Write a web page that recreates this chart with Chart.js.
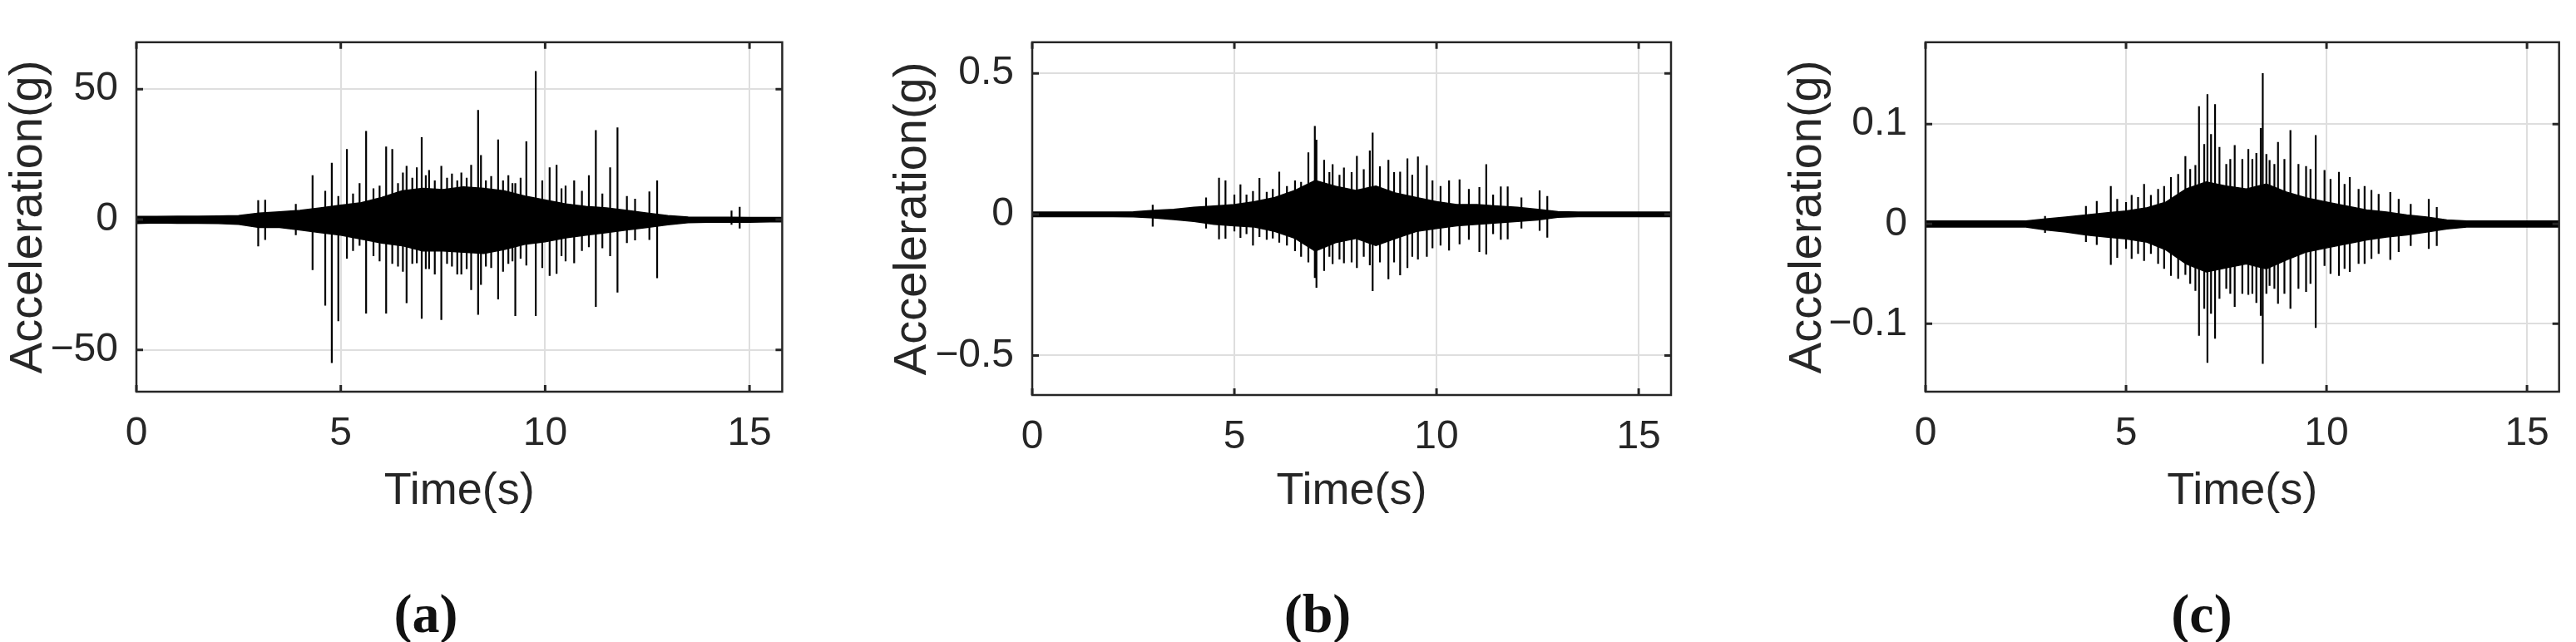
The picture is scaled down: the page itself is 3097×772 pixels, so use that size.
<!DOCTYPE html>
<html>
<head>
<meta charset="utf-8">
<script src="https://cdn.jsdelivr.net/npm/chart.js@4.4.1/dist/chart.umd.min.js"></script>
<style>
  html, body { margin: 0; padding: 0; background: #fff; }
  body { width: 3097px; height: 772px; position: relative; overflow: hidden; }
  .panel { position: absolute; top: 0; }
  .cap { position: absolute; top: 700px; width: 200px; margin-left: -100px; text-align: center;
         font: bold 66px "Liberation Serif", "DejaVu Serif", serif; color: #111; }
</style>
</head>
<body>
<div class="panel" id="pa"><canvas id="ca"></canvas></div>
<div class="panel" id="pb"><canvas id="cb"></canvas></div>
<div class="panel" id="pc"><canvas id="cc"></canvas></div>
<div class="cap" style="left:512px">(a)</div>
<div class="cap" style="left:1584px">(b)</div>
<div class="cap" style="left:2647px">(c)</div>
<script>
// envelope sample times (s)
const envTimes = [0,0.5,1,1.5,2,2.5,3,3.5,4,4.5,5,5.5,6,6.5,7,7.5,8,8.5,9,9.5,10,10.5,11,11.5,12,12.5,13,13.5,14,14.5,15,15.5,16];

// (a) dense core of the record, upper and lower edges
const aCoreUp = [1.2,1.2,1.3,1.3,1.4,1.5,2.5,3,3.5,4.5,5.5,6.5,8.5,11,12,11.5,12.5,12,11,9,7.5,6,5,4.5,3.5,2.5,1.5,1,0.9,0.9,0.8,0.8,0.8];
const aCoreLo = [-1.5,-1.3,-1.4,-1.4,-1.5,-1.8,-3,-3,-4,-5,-6,-7.5,-9,-10,-12,-12,-12.5,-13,-11.5,-9.5,-8.5,-7,-6,-5,-4,-3,-2,-1.2,-1,-1,-1,-0.9,-0.9];
// (a) isolated peaks: time, positive peak, negative peak
const aSpikeT  = [2.98,3.15,3.9,4.31,4.62,4.78,4.94,5.15,5.3,5.46,5.62,5.8,5.95,6.11,6.26,6.4,6.52,6.61,6.75,6.86,6.98,7.08,7.16,7.3,7.46,7.6,7.72,7.85,7.95,8.08,8.19,8.36,8.43,8.55,8.68,8.85,8.97,9.1,9.2,9.27,9.4,9.54,9.77,9.93,10.11,10.28,10.4,10.5,10.71,10.9,11.07,11.24,11.4,11.59,11.77,12.0,12.2,12.55,12.74,14.56,14.76];
const aSpikeUp = [7.4,7.6,6,17,11,21.8,9,27,10,14,34,12,13,28,27,14,18,20.6,16,20,31.6,17,19,15,20.6,16,17.6,15,18,16,21,42,24.7,15,16.7,30.7,15,17,14,14,16,30,56.9,15,20,21,12,13,15,11,17,34.3,10,20,35.3,9,8,10.8,15,3.4,4.9];
const aSpikeLo = [-10.3,-7.8,-6,-19.4,-33,-55,-39,-15,-12,-10,-36,-14,-16,-36,-17,-18,-20,-32,-17,-16.7,-38,-19,-19,-21,-38.5,-17,-18,-21,-21,-19,-27,-36.5,-25,-18,-18.6,-30.6,-20,-17,-16,-37,-15,-17.6,-37,-18.6,-21.6,-20.8,-14,-16,-16.7,-12,-10.6,-33.5,-11,-14,-28,-9,-8,-7.8,-22.5,-2,-3.4];

// (b)
const bCoreUp = [0.008,0.008,0.008,0.008,0.008,0.009,0.014,0.018,0.025,0.03,0.035,0.045,0.06,0.085,0.12,0.1,0.085,0.1,0.075,0.06,0.045,0.035,0.035,0.03,0.025,0.018,0.01,0.008,0.008,0.008,0.008,0.008,0.008];
const bCoreLo = [-0.008,-0.008,-0.008,-0.008,-0.008,-0.009,-0.012,-0.018,-0.025,-0.035,-0.04,-0.045,-0.06,-0.085,-0.13,-0.1,-0.085,-0.11,-0.085,-0.06,-0.05,-0.04,-0.035,-0.03,-0.025,-0.02,-0.01,-0.008,-0.008,-0.008,-0.008,-0.008,-0.008];
const bSpikeT  = [2.98,4.3,4.62,4.78,5.0,5.15,5.3,5.46,5.62,5.8,5.95,6.11,6.3,6.5,6.65,6.83,6.99,7.03,7.22,7.35,7.43,7.6,7.71,7.9,8.03,8.2,8.35,8.42,8.6,8.81,8.95,9.1,9.28,9.4,9.54,9.76,9.9,10.1,10.31,10.57,10.8,11.06,11.23,11.4,11.59,11.76,12.1,12.55,12.74];
const bSpikeUp = [0.034,0.06,0.13,0.12,0.07,0.106,0.07,0.083,0.129,0.08,0.09,0.151,0.1,0.12,0.115,0.22,0.313,0.265,0.193,0.15,0.178,0.14,0.166,0.15,0.207,0.16,0.226,0.29,0.17,0.193,0.15,0.151,0.198,0.14,0.205,0.174,0.12,0.1,0.12,0.124,0.09,0.097,0.178,0.07,0.099,0.099,0.06,0.085,0.065];
const bSpikeLo = [-0.043,-0.05,-0.088,-0.086,-0.06,-0.083,-0.07,-0.11,-0.08,-0.09,-0.085,-0.1,-0.11,-0.13,-0.15,-0.17,-0.225,-0.26,-0.2,-0.15,-0.176,-0.16,-0.173,-0.17,-0.19,-0.15,-0.18,-0.272,-0.17,-0.23,-0.17,-0.216,-0.19,-0.15,-0.16,-0.15,-0.12,-0.11,-0.128,-0.106,-0.09,-0.133,-0.142,-0.07,-0.09,-0.088,-0.05,-0.058,-0.082];

// (c)
const cCoreUp = [0.003,0.003,0.003,0.003,0.003,0.003,0.005,0.007,0.009,0.011,0.013,0.016,0.022,0.035,0.042,0.038,0.035,0.04,0.032,0.026,0.022,0.018,0.014,0.012,0.009,0.007,0.004,0.003,0.003,0.003,0.003,0.003,0.003];
const cCoreLo = [-0.003,-0.003,-0.003,-0.003,-0.003,-0.003,-0.006,-0.008,-0.011,-0.013,-0.015,-0.018,-0.026,-0.04,-0.048,-0.044,-0.04,-0.045,-0.036,-0.028,-0.024,-0.02,-0.016,-0.013,-0.011,-0.008,-0.005,-0.003,-0.003,-0.003,-0.003,-0.003,-0.003];
const cSpikeT  = [2.98,4.0,4.27,4.62,4.78,5.0,5.14,5.3,5.45,5.62,5.8,5.95,6.12,6.3,6.48,6.6,6.73,6.82,6.95,7.03,7.12,7.22,7.33,7.5,7.6,7.71,7.9,8.05,8.15,8.25,8.36,8.41,8.5,8.58,8.7,8.79,8.95,9.1,9.3,9.49,9.6,9.73,9.95,10.1,10.31,10.45,10.58,10.8,10.95,11.12,11.3,11.59,11.8,12.1,12.55,12.75];
const cSpikeUp = [0.008,0.018,0.023,0.038,0.025,0.022,0.029,0.027,0.04,0.029,0.035,0.038,0.047,0.05,0.068,0.055,0.059,0.118,0.08,0.13,0.09,0.12,0.077,0.06,0.065,0.079,0.065,0.075,0.065,0.071,0.096,0.151,0.07,0.064,0.06,0.082,0.065,0.094,0.06,0.058,0.055,0.089,0.054,0.045,0.052,0.04,0.047,0.035,0.038,0.034,0.03,0.032,0.025,0.02,0.025,0.017];
const cSpikeLo = [-0.009,-0.018,-0.021,-0.041,-0.034,-0.025,-0.035,-0.03,-0.037,-0.03,-0.04,-0.045,-0.052,-0.055,-0.051,-0.06,-0.067,-0.112,-0.085,-0.139,-0.09,-0.115,-0.075,-0.065,-0.07,-0.083,-0.07,-0.071,-0.07,-0.079,-0.092,-0.14,-0.07,-0.062,-0.065,-0.08,-0.07,-0.085,-0.065,-0.068,-0.06,-0.104,-0.042,-0.05,-0.052,-0.045,-0.048,-0.04,-0.04,-0.035,-0.03,-0.036,-0.028,-0.022,-0.025,-0.022];

// axes
const xTicks = [0, 5, 10, 15];
const aTicks = [-50, 0, 50];
const bTicks = [-0.5, 0, 0.5];
const cTicks = [-0.1, 0, 0.1];

const TEXT = '#262626';
const GRID = '#dedede';
const FONT = '"Liberation Sans", Arial, sans-serif';

// MATLAB style box with inward ticks
const boxPlugin = {
  id: 'box',
  afterDraw(chart) {
    const { ctx, chartArea: a, scales } = chart;
    ctx.save();
    ctx.strokeStyle = TEXT;
    ctx.lineWidth = 2.5;
    ctx.strokeRect(a.left, a.top, a.right - a.left, a.bottom - a.top);
    ctx.lineWidth = 3;
    ctx.beginPath();
    scales.x.ticks.forEach(t => {
      const px = scales.x.getPixelForValue(t.value);
      ctx.moveTo(px, a.bottom); ctx.lineTo(px, a.bottom - 8);
      ctx.moveTo(px, a.top); ctx.lineTo(px, a.top + 8);
    });
    scales.y.ticks.forEach(t => {
      const py = scales.y.getPixelForValue(t.value);
      ctx.moveTo(a.left, py); ctx.lineTo(a.left + 8, py);
      ctx.moveTo(a.right, py); ctx.lineTo(a.right - 8, py);
    });
    ctx.stroke();
    ctx.restore();
  }
};

function spikePoints(ts, ups, los) {
  const pts = [];
  ts.forEach((t, i) => {
    pts.push({ x: t, y: ups[i] });
    pts.push({ x: t, y: los[i] });
    pts.push({ x: t, y: null });
  });
  return pts;
}

function makePanel(id, cfg) {
  const holder = document.getElementById('p' + id);
  holder.style.left = cfg.left + 'px';
  holder.style.width = cfg.width + 'px';
  holder.style.height = '640px';
  const fmt = v => (v < 0 ? '\u2212' + Math.abs(v) : String(v));
  new Chart(document.getElementById('c' + id), {
    type: 'line',
    data: {
      datasets: [
        { data: envTimes.map((t, i) => ({ x: t, y: cfg.up[i] })), borderColor: '#000', borderWidth: 1.5,
          backgroundColor: '#000', fill: '+1', pointRadius: 0, tension: 0 },
        { data: envTimes.map((t, i) => ({ x: t, y: cfg.lo[i] })), borderColor: '#000', borderWidth: 1.5,
          fill: false, pointRadius: 0, tension: 0 },
        { data: spikePoints(cfg.st, cfg.su, cfg.sl), borderColor: '#000', borderWidth: 2.2,
          fill: false, pointRadius: 0, spanGaps: false }
      ]
    },
    options: {
      responsive: true, maintainAspectRatio: false, animation: false,
      layout: { padding: { top: 16, right: 4, left: 0, bottom: 0 } },
      plugins: { legend: { display: false }, tooltip: { enabled: false } },
      scales: {
        x: {
          type: 'linear', min: 0, max: 15.8,
          afterBuildTicks: s => { s.ticks = xTicks.map(v => ({ value: v })); },
          afterFit: s => { s.height = cfg.xh; },
          grid: { color: GRID, lineWidth: 2, drawTicks: false },
          border: { display: false },
          ticks: { color: TEXT, font: { family: FONT, size: 48 }, padding: 22, maxRotation: 0 },
          title: { display: true, text: 'Time(s)', color: TEXT, font: { family: FONT, size: 54 },
                   padding: { top: 0, bottom: 16 } }
        },
        y: {
          min: cfg.min, max: cfg.max,
          afterBuildTicks: s => { s.ticks = cfg.ticks.map(v => ({ value: v })); },
          afterFit: s => { s.width = 190; },
          grid: { color: GRID, lineWidth: 2, drawTicks: false },
          border: { display: false },
          ticks: { color: TEXT, font: { family: FONT, size: 48 }, padding: 22, callback: fmt },
          title: { display: true, text: 'Acceleration(g)', color: TEXT, font: { family: FONT, size: 56 },
                   padding: { top: cfg.tpad, bottom: 0 } }
        }
      }
    },
    plugins: [boxPlugin]
  });
}

makePanel('a', { left: 164 - 190, width: 946 - 164 + 190 + 4, xh: 169, min: -66, max: 68, ticks: aTicks, tpad: 27,
  up: aCoreUp, lo: aCoreLo, st: aSpikeT, su: aSpikeUp, sl: aSpikeLo });
makePanel('b', { left: 1241 - 190, width: 2015 - 1241 + 190 + 4, xh: 165, min: -0.64, max: 0.61, ticks: bTicks, tpad: 13,
  up: bCoreUp, lo: bCoreLo, st: bSpikeT, su: bSpikeUp, sl: bSpikeLo });
makePanel('c', { left: 2315 - 190, width: 3083 - 2315 + 190 + 4, xh: 169, min: -0.168, max: 0.182, ticks: cTicks, tpad: 15,
  up: cCoreUp, lo: cCoreLo, st: cSpikeT, su: cSpikeUp, sl: cSpikeLo });
</script>
</body>
</html>
